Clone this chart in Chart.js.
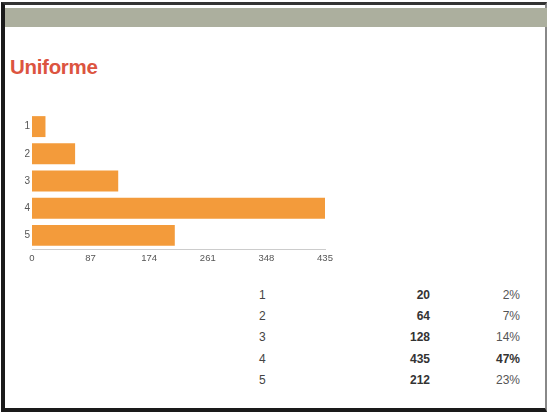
<!DOCTYPE html>
<html>
<head>
<meta charset="utf-8">
<script src="https://cdn.jsdelivr.net/npm/chart.js@4"></script>
<style>
  html, body { margin: 0; padding: 0; background: #fff; }
  body { width: 552px; height: 416px; position: relative; overflow: hidden; font-family: "Liberation Sans", Arial, sans-serif; }
  .frame { position: absolute; left: 1px; top: 2px; width: 546px; height: 410px; border-left: 4px solid #1a1a1a; border-top: 3px solid #333; border-bottom: 4px solid #1a1a1a; border-right: 2px solid #888; box-sizing: border-box; }
  .band { position: absolute; left: 5px; top: 8px; width: 542px; height: 19px; background: #acaf9e; }
  h1 { position: absolute; left: 10px; top: 55px; margin: 0; font-size: 20.5px; font-weight: bold; color: #dc5440; letter-spacing: -0.3px; }
  .wrap { position: absolute; left: 0; top: 105px; width: 340px; height: 165px; }
  table { position: absolute; left: 242px; top: 284px; border-collapse: collapse; font-size: 12px; color: #444; }
  td { height: 21.3px; padding: 0; }
  td.cat { width: 52px; text-align: left; padding-left: 17px; }
  td.val { width: 119px; text-align: right; font-weight: bold; color: #333; }
  td.pct { width: 90px; text-align: right; color: #555; }
  td.pct.top { font-weight: bold; color: #333; }
</style>
</head>
<body>
<div class="frame"></div>
<div class="band"></div>
<h1>Uniforme</h1>
<div class="wrap"><canvas id="chart" width="340" height="165"></canvas></div>
<table id="tbl"></table>
<script>
const categories = ["1", "2", "3", "4", "5"];
const counts = [20, 64, 128, 435, 212];
const percents = ["2%", "7%", "14%", "47%", "23%"];
const xTicks = [0, 87, 174, 261, 348, 435];

// summary table under the chart
const tbl = document.querySelector("#tbl");
const maxCount = Math.max(...counts);
categories.forEach((c, i) => {
  const tr = document.createElement("tr");
  tr.innerHTML =
    '<td class="cat">' + c + '</td>' +
    '<td class="val">' + counts[i] + '</td>' +
    '<td class="pct' + (counts[i] === maxCount ? ' top' : '') + '">' + percents[i] + '</td>';
  tbl.appendChild(tr);
});

const ctx = document.querySelector("#chart").getContext("2d");

new Chart(ctx, {
  type: "bar",
  data: {
    labels: categories,
    datasets: [
      {
        data: counts,
        backgroundColor: "#f39b3b",
        borderWidth: 0,
        barPercentage: 0.77,
        categoryPercentage: 1,
      },
    ],
  },
  options: {
    indexAxis: "y",
    responsive: false,
    animation: false,
    layout: { padding: { top: 6, right: 15, left: 3, bottom: 0 } },
    plugins: { legend: { display: false }, tooltip: { enabled: false } },
    scales: {
      x: {
        min: 0,
        max: 435,
        afterBuildTicks: (axis) => {
          axis.ticks = xTicks.map((v) => ({ value: v }));
        },
        afterFit: (axis) => {
          axis.height = 21;
        },
        grid: { display: false, drawTicks: false },
        border: { display: true, color: "#cccccc" },
        ticks: {
          color: "#555",
          font: { size: 9.5, family: "Liberation Sans" },
          padding: 4,
          maxRotation: 0,
        },
      },
      y: {
        afterFit: (axis) => {
          axis.width = 29;
        },
        grid: { display: false, drawTicks: false },
        border: { display: false },
        ticks: {
          color: "#555",
          font: { size: 10, family: "Liberation Sans" },
          padding: 2,
        },
      },
    },
  },
});
</script>
</body>
</html>
